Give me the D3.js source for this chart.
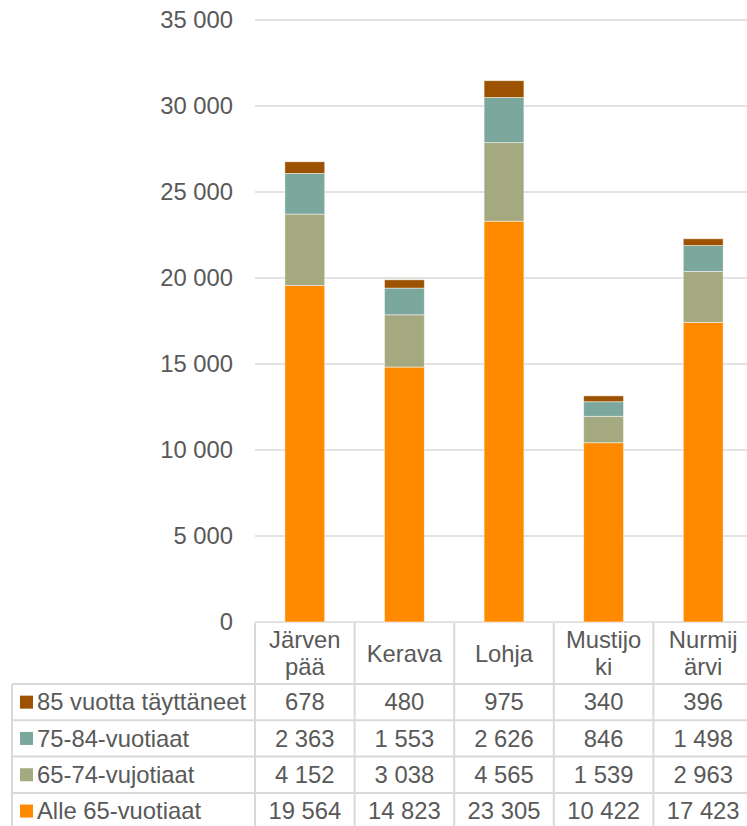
<!DOCTYPE html>
<html>
<head>
<meta charset="utf-8">
<script src="https://cdn.jsdelivr.net/npm/d3@7"></script>
<style>
  html, body { margin: 0; padding: 0; background: #fff; }
  text { font-family: "Liberation Sans", Arial, sans-serif; fill: #595959; }
</style>
</head>
<body>
<svg id="chart" width="747" height="826"></svg>
<script>
// data
const cities = ['Järvenpää', 'Kerava', 'Lohja', 'Mustijoki', 'Nurmijärvi']
const cityLines = [['Järven', 'pää'], ['Kerava'], ['Lohja'], ['Mustijo', 'ki'], ['Nurmij', 'ärvi']]
const seriesNames = ['Alle 65-vuotiaat', '65-74-vujotiaat', '75-84-vuotiaat', '85 vuotta täyttäneet']
const alle65 = [19564, 14823, 23305, 10422, 17423]
const v6574 = [4152, 3038, 4565, 1539, 2963]
const v7584 = [2363, 1553, 2626, 846, 1498]
const v85 = [678, 480, 975, 340, 396]
const yTicks = [0, 5000, 10000, 15000, 20000, 25000, 30000, 35000]

const colors = ['#ff8a00', '#a4a97f', '#7ba79c', '#9c5200']
const values = [alle65, v6574, v7584, v85]

const fontSize = 23.8
const svg = d3.select('#chart')

const left = 255, right = 753
const y0 = 622, yTop = 20

const x = d3.scaleBand().domain(cities).range([left, right])
    .paddingInner(0.6).paddingOuter(0.3)
const col = d3.scaleBand().domain(cities).range([left, right]).padding(0)
const y = d3.scaleLinear().domain([0, 35000]).range([y0, yTop])

const fmt = n => d3.format(',')(n).replace(/,/g, ' ')

// gridlines
svg.append('g').selectAll('line').data(yTicks).enter().append('line')
    .attr('x1', left).attr('x2', 747)
    .attr('y1', d => y(d)).attr('y2', d => y(d))
    .attr('stroke', '#d9d9d9').attr('stroke-width', 1.5)

// y axis labels
const yAxis = d3.axisLeft(y).tickValues(yTicks).tickSize(0).tickPadding(22).tickFormat(fmt)
const ya = svg.append('g').attr('transform', `translate(${left},0)`).call(yAxis)
ya.select('.domain').remove()
ya.selectAll('text').style('font-size', fontSize + 'px').attr('fill', '#595959')
    .style('font-family', '"Liberation Sans", Arial, sans-serif')

// stacked bars
const rows = cities.map((c, i) => {
    const r = { city: c }
    seriesNames.forEach((s, j) => { r[s] = values[j][i] })
    return r
})
const stacked = d3.stack().keys(seriesNames)(rows)

svg.append('g').selectAll('g').data(stacked).enter().append('g')
    .attr('fill', (d, i) => colors[i])
    .selectAll('rect').data(d => d).enter().append('rect')
    .attr('x', d => x(d.data.city))
    .attr('width', x.bandwidth())
    .attr('y', d => y(d[1]))
    .attr('height', d => y(d[0]) - y(d[1]))
    .attr('stroke', '#fff').attr('stroke-opacity', 0.6).attr('stroke-width', 0.8)

// data table
const headTop = 623, headBottom = 684
const rowH = 36.3
const tableLeft = 12
const tableRows = [3, 2, 1, 0] // top to bottom: 85, 75-84, 65-74, alle 65
const tableBottom = headBottom + rowH * tableRows.length
const border = '#d9d9d9'
const tg = svg.append('g')

// vertical borders
const colEdges = cities.map(c => col(c)).concat([right])
tg.selectAll('.vline').data(colEdges).enter().append('line')
    .attr('x1', d => d).attr('x2', d => d)
    .attr('y1', headTop).attr('y2', tableBottom)
    .attr('stroke', border).attr('stroke-width', 2)
tg.append('line').attr('x1', tableLeft).attr('x2', tableLeft)
    .attr('y1', headBottom).attr('y2', tableBottom)
    .attr('stroke', border).attr('stroke-width', 2)

// horizontal borders
const hLines = d3.range(tableRows.length + 1).map(i => headBottom + i * rowH)
tg.selectAll('.hline').data(hLines).enter().append('line')
    .attr('x1', tableLeft).attr('x2', 747)
    .attr('y1', d => d).attr('y2', d => d)
    .attr('stroke', border).attr('stroke-width', 2)

// header labels
cities.forEach((c, i) => {
    const lines = cityLines[i]
    const cx = col(c) + col.bandwidth() / 2
    const mid = (headTop + headBottom) / 2
    const lh = 27
    lines.forEach((t, k) => {
        tg.append('text')
            .attr('x', cx)
            .attr('y', mid + (k - (lines.length - 1) / 2) * lh)
            .attr('dy', '0.35em')
            .attr('text-anchor', 'middle')
            .style('font-size', fontSize + 'px')
            .text(t)
    })
})

// rows
tableRows.forEach((s, r) => {
    const cy = headBottom + r * rowH + rowH / 2
    tg.append('rect').attr('x', 20).attr('y', cy - 6.5)
        .attr('width', 13).attr('height', 13).attr('fill', colors[s])
    tg.append('text').attr('x', 37).attr('y', cy).attr('dy', '0.35em')
        .style('font-size', fontSize + 'px').text(seriesNames[s])
    cities.forEach((c, i) => {
        tg.append('text')
            .attr('x', col(c) + col.bandwidth() / 2)
            .attr('y', cy).attr('dy', '0.35em')
            .attr('text-anchor', 'middle')
            .style('font-size', fontSize + 'px')
            .text(fmt(values[s][i]))
    })
})
</script>
</body>
</html>
